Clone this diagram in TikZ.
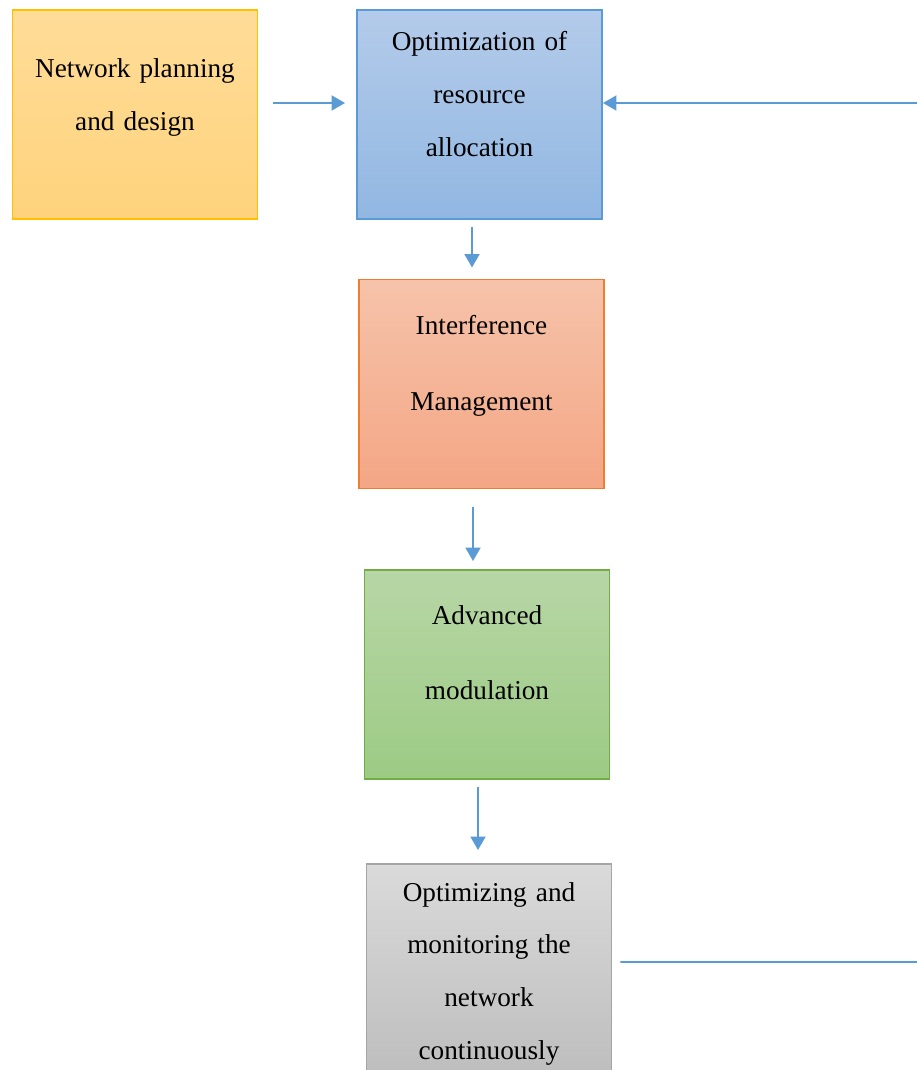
\documentclass[tikz,border=0pt]{standalone}
\usepackage{fontspec}
\setmainfont{Liberation Serif}
\usetikzlibrary{arrows.meta}

\definecolor{flowblue}{HTML}{5B9BD5}
\definecolor{planedge}{HTML}{FFC000}
\definecolor{allocedge}{HTML}{5B9BD5}
\definecolor{interfedge}{HTML}{ED7D31}
\definecolor{moduledge}{HTML}{70AD47}
\definecolor{monitoredge}{HTML}{A5A5A5}

\begin{document}
\begin{tikzpicture}[
    box/.style={draw, line width=1.1pt, minimum width=4.9cm, minimum height=4.18cm,
        text width=4.6cm, align=center, inner sep=0pt, text height=0.4cm,
        font=\fontsize{15.5}{30}\selectfont},
    widebox/.style={box, font=\fontsize{15.5}{43}\selectfont},
    flow/.style={draw=flowblue, line width=1.1pt, -{Triangle[length=2.7mm, width=3mm]}}
]
    \useasboundingbox (0,0) rectangle (18.34,-21.4);

    % boxes
    \node[box, draw=planedge, top color={rgb,255:red,255;green,220;blue,152},
        bottom color={rgb,255:red,255;green,211;blue,125}, text depth=1.86cm]
        (plan) at (2.70,-2.29) {Network planning\\and design};
    \node[box, draw=allocedge, top color={rgb,255:red,180;green,203;blue,234},
        bottom color={rgb,255:red,145;green,183;blue,226}, text depth=2.94cm]
        (alloc) at (9.59,-2.29) {Optimization of\\resource\\allocation};
    \node[widebox, draw=interfedge, top color={rgb,255:red,246;green,195;blue,170},
        bottom color={rgb,255:red,244;green,166;blue,133}, text depth=2.36cm]
        (interf) at (9.63,-7.68) {Interference\\Management};
    \node[widebox, draw=moduledge, top color={rgb,255:red,184;green,214;blue,166},
        bottom color={rgb,255:red,156;green,203;blue,132}, text depth=2.42cm]
        (modul) at (9.74,-13.49) {Advanced\\modulation};
    \node[box, draw=monitoredge, top color={rgb,255:red,218;green,218;blue,218},
        bottom color={rgb,255:red,190;green,190;blue,190}, text depth=3.1cm]
        (monitor) at (9.78,-19.37) {Optimizing and\\monitoring the\\network\\continuously};

    % arrows
    \draw[flow, shorten <=0.3cm, shorten >=0.22cm]
        ([yshift=0.23cm]plan.east) -- ([yshift=0.23cm]alloc.west);
    \draw[flow, shorten <=0.14cm, shorten >=0.22cm]
        ([xshift=-0.15cm]alloc.south) -- ([xshift=-0.15cm]alloc.south |- interf.north);
    \draw[flow, shorten <=0.36cm, shorten >=0.16cm]
        ([xshift=-0.17cm]interf.south) -- ([xshift=-0.17cm]interf.south |- modul.north);
    \draw[flow, shorten <=0.14cm, shorten >=0.26cm]
        ([xshift=-0.18cm]modul.south) -- ([xshift=-0.18cm]modul.south |- monitor.north);

    % feedback loop
    \coordinate (loop-out) at (18.7,-19.24);
    \coordinate (loop-in) at (18.7,-2.06);
    \draw[flow, shorten <=0.16cm]
        ([yshift=0.13cm]monitor.east) -- (loop-out) -- (loop-in) -- ([yshift=0.23cm]alloc.east);
\end{tikzpicture}
\end{document}
